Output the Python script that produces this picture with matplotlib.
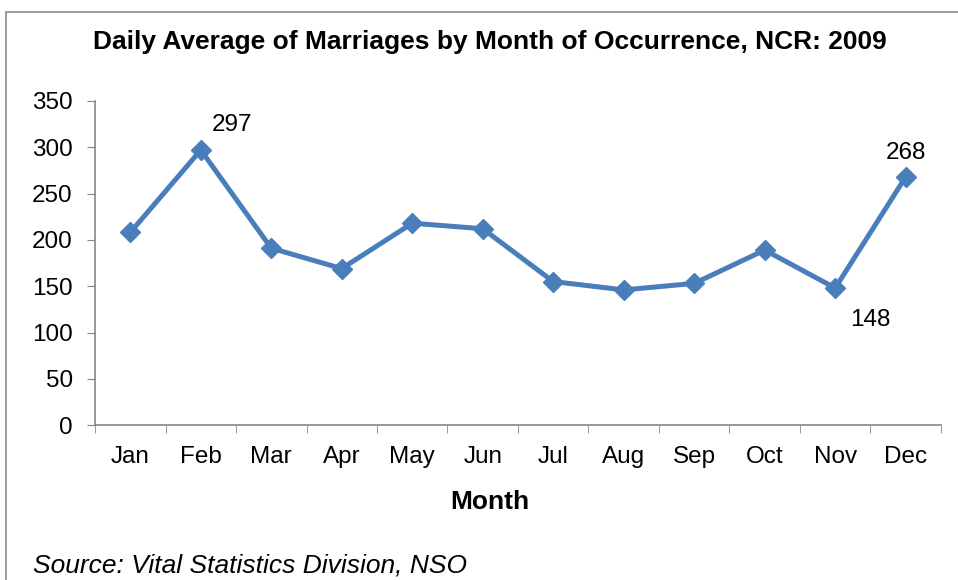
import matplotlib.pyplot as plt
from matplotlib.patches import Rectangle

plt.rcParams['font.family'] = ['Liberation Sans', 'DejaVu Sans']

months = ['Jan', 'Feb', 'Mar', 'Apr', 'May', 'Jun',
          'Jul', 'Aug', 'Sep', 'Oct', 'Nov', 'Dec']
daily_avg = [208, 297, 191, 169, 218, 212, 155, 146, 153, 189, 148, 268]
y_ticks = [0, 50, 100, 150, 200, 250, 300, 350]

line_color = '#4a7ebb'
axis_gray = '#868686'

fig = plt.figure(figsize=(9.58, 5.80), dpi=100)
ax = fig.add_axes([0.0992, 0.267, 0.883, 0.559])

x = list(range(len(months)))
ax.plot(x, daily_avg, color=line_color, linewidth=3.6, marker='D',
        markersize=10, markerfacecolor=line_color, markeredgecolor=line_color,
        solid_joinstyle='miter')

# data labels for Feb, Nov, Dec
ax.annotate(str(daily_avg[1]), (1, daily_avg[1]), xytext=(8, 10),
            textcoords='offset points', fontsize=17.5, ha='left', va='bottom')
ax.annotate(str(daily_avg[11]), (11, daily_avg[11]), xytext=(0, 9),
            textcoords='offset points', fontsize=17.5, ha='center', va='bottom')
ax.annotate(str(daily_avg[10]), (10, daily_avg[10]), xytext=(11, -15),
            textcoords='offset points', fontsize=17.5, ha='left', va='top')

ax.set_xlim(-0.5, len(months) - 0.5)
ax.set_ylim(0, 350)
ax.set_yticks(y_ticks)
ax.set_xticks(x)
ax.set_xticklabels(months)
ax.set_xticks([i - 0.5 for i in range(len(months) + 1)], minor=True)

ax.tick_params(axis='y', labelsize=17.5, length=6, color=axis_gray, pad=10)
ax.tick_params(axis='x', which='major', labelsize=17.5, length=0, pad=15)
ax.tick_params(axis='x', which='minor', length=6, color=axis_gray)

for side in ['top', 'right']:
    ax.spines[side].set_visible(False)
for side in ['left', 'bottom']:
    ax.spines[side].set_color(axis_gray)
    ax.spines[side].set_linewidth(1.2)

fig.text(0.511, 0.927, 'Daily Average of Marriages by Month of Occurrence, NCR: 2009',
         ha='center', va='center', fontsize=19, fontweight='bold')
fig.text(0.511, 0.134, 'Month', ha='center', va='center',
         fontsize=19, fontweight='bold')
fig.text(0.034, 0.004, 'Source: Vital Statistics Division, NSO',
         ha='left', va='bottom', fontsize=19, style='italic')

# chart frame, cut off on the right and bottom
fig.patches.append(Rectangle((0.0063, -0.1), 1.2, 1.08, transform=fig.transFigure,
                             fill=False, edgecolor='#8c8c8c', linewidth=1.2))

fig.savefig('out.png', dpi=100)
